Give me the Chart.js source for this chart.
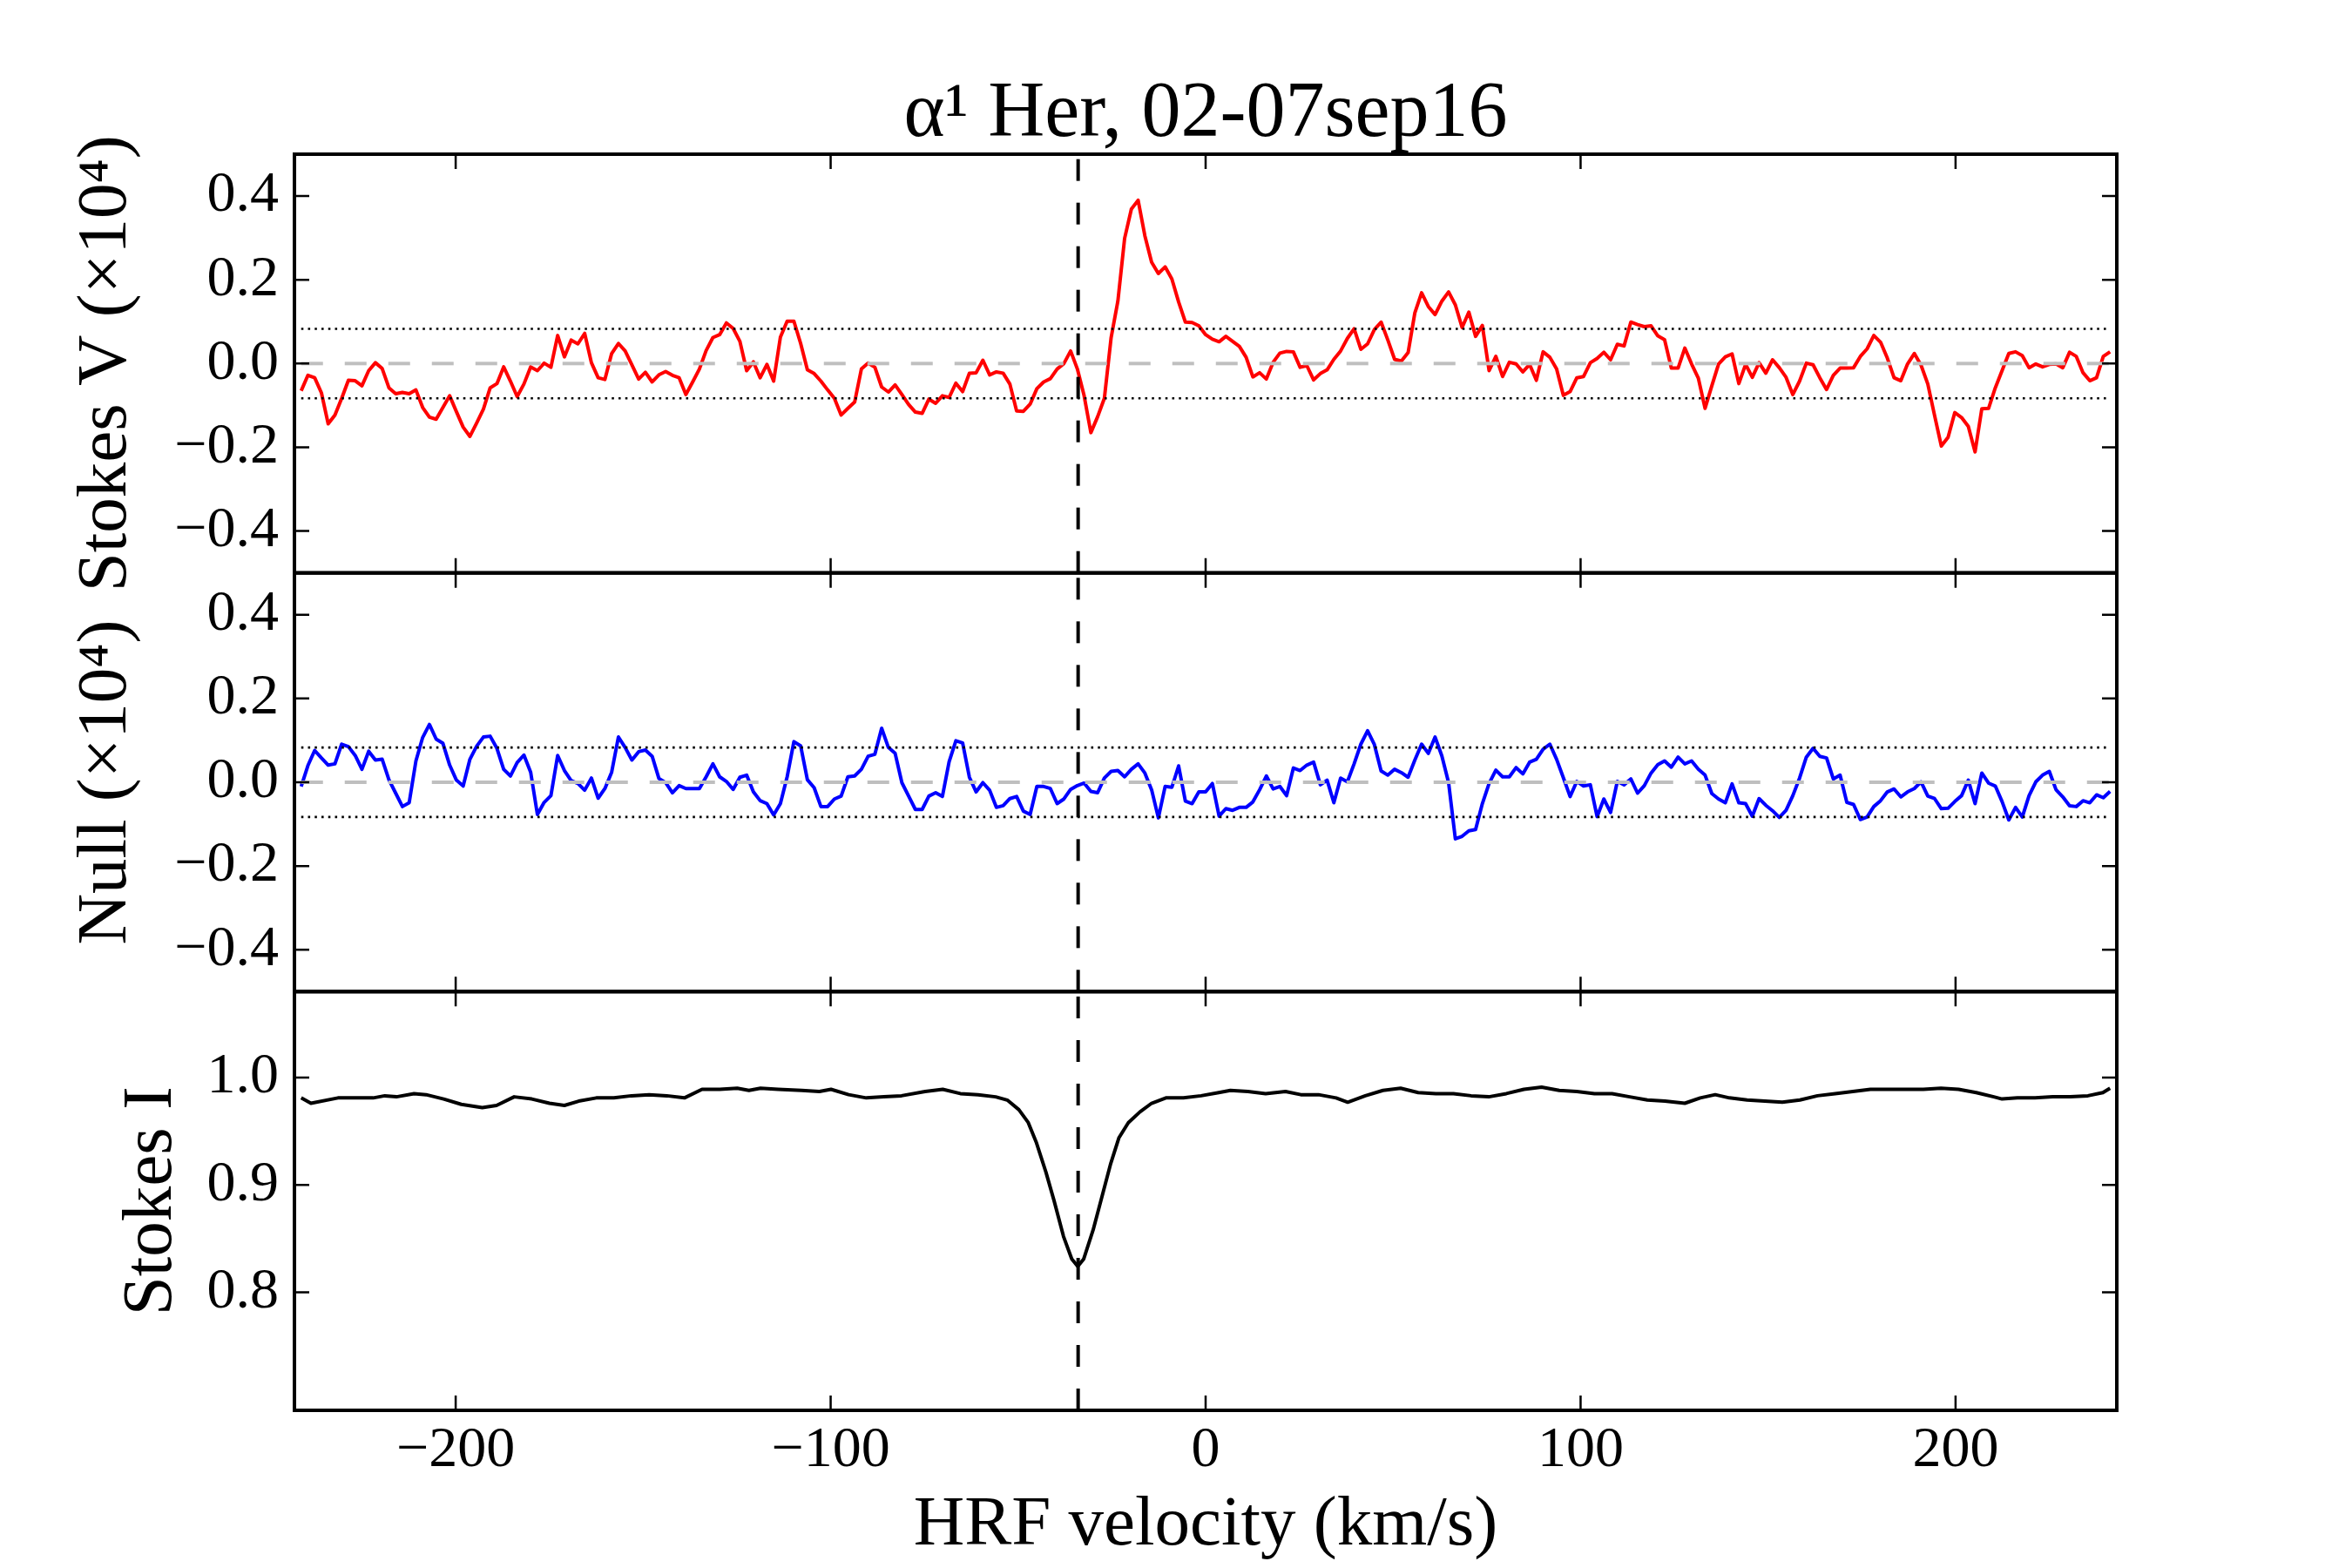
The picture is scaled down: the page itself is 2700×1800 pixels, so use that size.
<!DOCTYPE html>
<html>
<head>
<meta charset="utf-8">
<title>alpha1 Her LSD profiles</title>
<script src="https://cdn.jsdelivr.net/npm/chart.js@4.4.0/dist/chart.umd.min.js"></script>
<style>
  html, body { margin: 0; padding: 0; background: #fff; }
</style>
</head>
<body>
<canvas id="lsd" width="2700" height="1800"></canvas>
<script>
// LSD velocity grid (km/s), 1.8 km/s steps
const VEL_START = -241.2;
const VEL_STEP = 1.8;
const VEL_COUNT = 269;
const velocity = [];
for (let i = 0; i < VEL_COUNT; i++) velocity.push(+(VEL_START + i * VEL_STEP).toFixed(1));

// Stokes V (x10^4)
const stokesV = [
  -0.065,-0.028,-0.034,-0.070,-0.144,-0.123,-0.083,-0.040,-0.041,-0.053,
  -0.017,0.002,-0.012,-0.058,-0.072,-0.069,-0.072,-0.063,-0.105,-0.128,
  -0.133,-0.105,-0.077,-0.115,-0.152,-0.174,-0.142,-0.109,-0.058,-0.048,
  -0.008,-0.042,-0.079,-0.049,-0.008,-0.017,0.001,-0.009,0.067,0.016,
  0.056,0.047,0.072,0.002,-0.034,-0.038,0.024,0.048,0.030,-0.003,
  -0.037,-0.021,-0.044,-0.027,-0.019,-0.028,-0.034,-0.074,-0.044,-0.013,
  0.031,0.062,0.069,0.097,0.084,0.053,-0.017,0.004,-0.034,-0.002,
  -0.042,0.063,0.101,0.101,0.048,-0.015,-0.024,-0.042,-0.063,-0.083,
  -0.123,-0.107,-0.092,-0.013,0.001,-0.009,-0.056,-0.068,-0.051,-0.074,
  -0.098,-0.116,-0.119,-0.085,-0.095,-0.077,-0.081,-0.047,-0.067,-0.023,
  -0.022,0.008,-0.027,-0.020,-0.023,-0.049,-0.113,-0.114,-0.097,-0.060,
  -0.044,-0.036,-0.013,0.000,0.030,-0.013,-0.077,-0.165,-0.127,-0.083,
  0.062,0.149,0.299,0.369,0.390,0.305,0.242,0.215,0.231,0.202,
  0.147,0.099,0.098,0.090,0.069,0.058,0.052,0.065,0.053,0.041,
  0.015,-0.032,-0.022,-0.037,0.003,0.025,0.029,0.028,-0.009,-0.005,
  -0.039,-0.024,-0.015,0.010,0.030,0.060,0.083,0.034,0.047,0.081,
  0.099,0.056,0.010,0.006,0.026,0.121,0.169,0.136,0.117,0.149,
  0.171,0.140,0.086,0.123,0.065,0.091,-0.017,0.017,-0.031,0.003,
  -0.001,-0.020,-0.002,-0.040,0.028,0.015,-0.013,-0.076,-0.067,-0.034,
  -0.031,0.002,0.012,0.027,0.009,0.046,0.042,0.099,0.093,0.088,
  0.090,0.066,0.057,-0.011,-0.011,0.037,-0.001,-0.035,-0.107,-0.053,
  -0.001,0.016,0.023,-0.048,-0.002,-0.033,0.002,-0.023,0.009,-0.010,
  -0.033,-0.074,-0.042,0.001,-0.003,-0.034,-0.062,-0.028,-0.011,-0.011,
  -0.010,0.017,0.035,0.067,0.051,0.013,-0.034,-0.041,-0.001,0.024,
  -0.004,-0.049,-0.124,-0.197,-0.176,-0.117,-0.129,-0.150,-0.211,-0.108,
  -0.107,-0.058,-0.017,0.024,0.028,0.019,-0.010,-0.001,-0.008,-0.002,
  -0.001,-0.010,0.027,0.017,-0.022,-0.041,-0.034,0.017,0.028
];

// Null profile (x10^4)
const nullN = [
  -0.010,0.040,0.076,0.058,0.041,0.044,0.091,0.085,0.064,0.031,
  0.074,0.053,0.055,0.006,-0.026,-0.058,-0.049,0.051,0.107,0.138,
  0.103,0.093,0.041,0.005,-0.009,0.055,0.086,0.108,0.110,0.081,
  0.031,0.015,0.047,0.065,0.024,-0.077,-0.048,-0.032,0.064,0.028,
  0.004,-0.003,-0.019,0.010,-0.038,-0.015,0.024,0.108,0.083,0.053,
  0.073,0.077,0.062,0.009,-0.001,-0.025,-0.008,-0.015,-0.015,-0.015,
  0.013,0.044,0.013,0.002,-0.017,0.012,0.017,-0.023,-0.044,-0.051,
  -0.078,-0.051,0.013,0.097,0.087,0.006,-0.013,-0.058,-0.058,-0.040,
  -0.033,0.013,0.015,0.031,0.062,0.067,0.129,0.083,0.069,-0.001,
  -0.033,-0.065,-0.065,-0.033,-0.025,-0.034,0.049,0.099,0.094,0.012,
  -0.023,-0.001,-0.019,-0.060,-0.056,-0.039,-0.034,-0.069,-0.077,-0.010,
  -0.010,-0.015,-0.051,-0.040,-0.017,-0.008,-0.002,-0.022,-0.025,0.010,
  0.026,0.028,0.013,0.031,0.044,0.022,-0.018,-0.085,-0.010,-0.012,
  0.039,-0.045,-0.051,-0.023,-0.023,-0.003,-0.081,-0.063,-0.067,-0.060,
  -0.060,-0.047,-0.018,0.015,-0.016,-0.010,-0.032,0.034,0.028,0.041,
  0.048,-0.006,0.005,-0.049,0.010,0.001,0.044,0.091,0.123,0.090,
  0.027,0.017,0.031,0.023,0.012,0.053,0.091,0.069,0.108,0.063,
  -0.001,-0.135,-0.129,-0.116,-0.113,-0.051,-0.003,0.029,0.013,0.013,
  0.035,0.020,0.048,0.055,0.079,0.091,0.055,0.011,-0.034,0.002,
  -0.009,-0.006,-0.082,-0.040,-0.072,0.002,-0.006,0.008,-0.026,-0.008,
  0.022,0.042,0.051,0.036,0.060,0.044,0.051,0.031,0.017,-0.027,
  -0.040,-0.049,-0.004,-0.049,-0.051,-0.081,-0.039,-0.055,-0.068,-0.084,
  -0.067,-0.032,0.010,0.060,0.081,0.062,0.058,0.008,0.017,-0.048,
  -0.053,-0.089,-0.083,-0.058,-0.044,-0.023,-0.016,-0.035,-0.023,-0.015,
  0.001,-0.033,-0.039,-0.063,-0.062,-0.046,-0.032,0.005,-0.051,0.022,
  -0.002,-0.009,-0.046,-0.090,-0.060,-0.083,-0.032,0.001,0.017,0.026,
  -0.018,-0.035,-0.056,-0.058,-0.044,-0.049,-0.030,-0.037,-0.022
];

// Stokes I, read at its own velocities
const iVel = [
  -241.2,-238.6,-231.4,-226.7,-222.0,-218.9,-215.8,-211.1,-207.9,-203.2,
  -198.5,-192.9,-189.1,-184.4,-179.7,-175.0,-171.0,-167.2,-162.5,-157.8,
  -153.1,-148.4,-143.7,-139.0,-134.3,-129.6,-124.9,-121.8,-118.7,-114.0,
  -107.7,-103.0,-99.9,-95.2,-90.5,-85.8,-81.1,-74.8,-70.1,-65.4,
  -60.7,-56.0,-52.9,-49.8,-47.3,-45.1,-42.6,-40.4,-37.9,-35.7,
  -34.1,-32.5,-30.0,-27.8,-25.3,-23.1,-20.6,-17.5,-14.4,-10.6,
  -5.9,-1.2,3.5,6.6,11.3,16.0,21.3,25.4,30.1,34.8,
  37.9,42.6,47.3,52.0,56.7,61.4,66.1,70.8,75.5,80.2,
  84.9,89.6,94.3,99.0,103.7,108.4,113.1,117.8,122.5,127.8,
  131.9,135.9,139.7,144.4,149.1,153.8,158.5,163.2,167.9,172.6,
  177.3,182.0,186.7,191.4,196.1,200.8,205.5,210.2,212.4,216.5,
  221.2,225.9,230.6,235.3,239.3,241.2
];
const stokesI = [
  0.981,0.976,0.981,0.981,0.981,0.983,0.982,0.985,0.984,0.980,
  0.975,0.972,0.974,0.982,0.980,0.976,0.974,0.978,0.981,0.981,
  0.983,0.984,0.983,0.981,0.989,0.989,0.990,0.988,0.990,0.989,
  0.988,0.987,0.989,0.984,0.981,0.982,0.983,0.987,0.989,0.985,
  0.984,0.982,0.979,0.970,0.958,0.939,0.912,0.885,0.852,0.831,
  0.824,0.831,0.858,0.887,0.920,0.944,0.958,0.968,0.976,0.981,
  0.981,0.983,0.986,0.988,0.987,0.985,0.987,0.984,0.984,0.981,
  0.977,0.983,0.988,0.990,0.986,0.985,0.985,0.983,0.982,0.985,
  0.989,0.991,0.988,0.987,0.985,0.985,0.982,0.979,0.978,0.976,
  0.981,0.984,0.981,0.979,0.978,0.977,0.979,0.983,0.985,0.987,
  0.989,0.989,0.989,0.989,0.990,0.989,0.986,0.982,0.980,0.981,
  0.981,0.982,0.982,0.983,0.986,0.990
];

// tick labels and reference levels
const velTicks = [-200, -100, 0, 100, 200];
const polTicks = [-0.4, -0.2, 0.0, 0.2, 0.4];
const intTicks = [0.8, 0.9, 1.0];
const NOISE_LEVEL = 0.083;
const STAR_VEL = -34.0;

const FONT = "'Liberation Serif', 'Times New Roman', serif";
const TICK_LEN = 17;
const TICK_W = 2.5;
const FRAME_W = 4;

const pts = (xs, ys) => xs.map((x, i) => ({ x: x, y: ys[i] }));
const vMin = velocity[0], vMax = velocity[velocity.length - 1];
const hline = (y, axis, style) => Object.assign({
  data: [{ x: vMin, y: y }, { x: vMax, y: y }], yAxisID: axis, order: 1
}, style);
const vline = (axis, lo, hi) => ({
  data: [{ x: STAR_VEL, y: lo }, { x: STAR_VEL, y: hi }], yAxisID: axis, order: 1,
  borderColor: '#000', borderWidth: 4, borderDash: [25, 25]
});

const grayDash = { borderColor: '#bfbfbf', borderWidth: 4, borderDash: [25, 25] };
const dotted = { borderColor: '#000', borderWidth: 2.6, borderDash: [2.6, 5.15] };

const datasets = [
  { data: pts(velocity, stokesV), yAxisID: 'yV', borderColor: '#ff0000', borderWidth: 4, order: 2 },
  { data: pts(velocity, nullN), yAxisID: 'yN', borderColor: '#0000ff', borderWidth: 4, order: 2 },
  { data: pts(iVel, stokesI), yAxisID: 'yI', borderColor: '#000000', borderWidth: 4, order: 2 },
  hline(0, 'yV', grayDash), hline(NOISE_LEVEL, 'yV', dotted), hline(-NOISE_LEVEL, 'yV', dotted),
  hline(0, 'yN', grayDash), hline(NOISE_LEVEL, 'yN', dotted), hline(-NOISE_LEVEL, 'yN', dotted),
  vline('yV', -0.5, 0.5), vline('yN', -0.5, 0.5), vline('yI', 0.69, 1.08)
];

const fmt = (v, d) => v.toFixed(d).replace('-', '\u2212');

function yPanel(min, max, ticks, title, titlePad, weight) {
  return {
    type: 'linear', position: 'left', stack: 'panels', stackWeight: 1, weight: weight,
    min: min, max: max,
    grid: { display: false, drawTicks: false }, border: { display: false },
    afterBuildTicks: s => { s.ticks = ticks.map(v => ({ value: v })); },
    afterFit: s => { s.width = 338; },
    ticks: {
      color: '#000', padding: 18, autoSkip: false, font: { family: FONT, size: 66 },
      callback: v => fmt(v, 1)
    },
    title: {
      display: true, text: title, color: '#000',
      font: { family: FONT, size: 81 }, padding: { top: titlePad, bottom: 0 }
    }
  };
}

// panel frames and inward tick marks, placed from the scales
const framePlugin = {
  id: 'frames',
  afterDatasetsDraw(chart) {
    const ctx = chart.ctx;
    const xs = chart.scales.x;
    const left = chart.chartArea.left, right = chart.chartArea.right;
    ctx.save();
    ctx.strokeStyle = '#000';
    ['yV', 'yN', 'yI'].forEach(id => {
      const s = chart.scales[id];
      ctx.lineWidth = TICK_W;
      ctx.beginPath();
      s.ticks.forEach(t => {
        const py = s.getPixelForValue(t.value);
        ctx.moveTo(left, py); ctx.lineTo(left + TICK_LEN, py);
        ctx.moveTo(right, py); ctx.lineTo(right - TICK_LEN, py);
      });
      xs.ticks.forEach(t => {
        const px = xs.getPixelForValue(t.value);
        ctx.moveTo(px, s.top); ctx.lineTo(px, s.top + TICK_LEN);
        ctx.moveTo(px, s.bottom); ctx.lineTo(px, s.bottom - TICK_LEN);
      });
      ctx.stroke();
      ctx.lineWidth = FRAME_W;
      ctx.strokeRect(left, s.top, right - left, s.bottom - s.top);
    });
    ctx.restore();
  }
};

const config = {
  type: 'line',
  data: { datasets: datasets },
  options: {
    responsive: false,
    devicePixelRatio: 1,
    animation: false,
    layout: { padding: { left: 0, right: 270, top: 0, bottom: 0 } },
    elements: {
      point: { radius: 0 },
      line: { tension: 0, borderJoinStyle: 'round', fill: false }
    },
    plugins: {
      legend: { display: false },
      tooltip: { enabled: false },
      title: {
        display: true, fullSize: false, text: '\u03b1\u00b9 Her, 02-07sep16', color: '#000',
        font: { family: FONT, size: 90, weight: 'normal', lineHeight: 1.0 },
        padding: { top: 87, bottom: 0 }
      }
    },
    scales: {
      x: {
        type: 'linear', position: 'bottom', min: -243, max: 243,
        grid: { display: false, drawTicks: false }, border: { display: false },
        afterBuildTicks: s => { s.ticks = velTicks.map(v => ({ value: v })); },
        afterFit: s => { s.height = 181; },
        ticks: {
          color: '#000', padding: 7, autoSkip: false, maxRotation: 0,
          font: { family: FONT, size: 66 },
          callback: v => fmt(v, 0)
        },
        title: {
          display: true, text: 'HRF velocity (km/s)', color: '#000',
          font: { family: FONT, size: 81 }, padding: { top: 0, bottom: 0 }
        }
      },
      yV: yPanel(-0.5, 0.5, polTicks, 'Stokes V (\u00d710\u2074)', 74, 3),
      yN: yPanel(-0.5, 0.5, polTicks, 'Null (\u00d710\u2074)', 74, 2),
      yI: yPanel(0.69, 1.08, intTicks, 'Stokes I', 126, 1)
    }
  },
  plugins: [framePlugin]
};

const lsdChart = new Chart(document.getElementById('lsd'), config);
</script>
</body>
</html>
